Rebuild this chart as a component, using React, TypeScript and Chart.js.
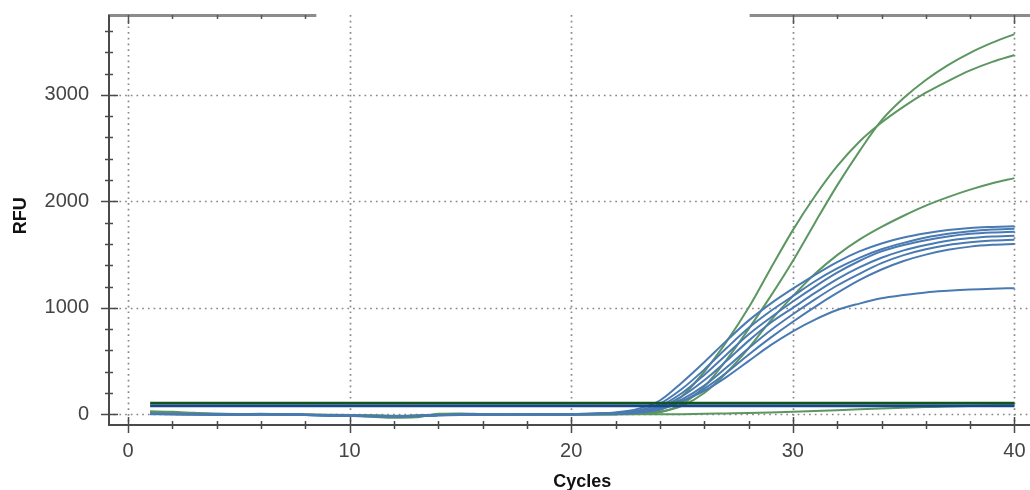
import React, { useEffect, useRef } from 'react';
import { Chart, registerables } from 'chart.js';

Chart.register(...registerables);

// ---------- data ----------
const cycles = [1, 2, 3, 4, 5, 6, 7, 8, 9, 10, 11, 12, 13, 14, 15, 16, 17, 18, 19, 20,
  21, 22, 23, 24, 25, 26, 27, 28, 29, 30, 31, 32, 33, 34, 35, 36, 37, 38, 39, 40];

const greenA = [12, 10, 6, 4, 3, 2, 0, -3, -6, -9, -12, -15, -12, -5, -2, -2, -3, -3, -2, -1,
  0, 3, 10, 40, 170, 400, 680, 1000, 1370, 1730, 2050, 2330, 2560, 2740, 2890, 3020, 3130, 3230, 3310, 3374];
const greenB = [20, 16, 10, 6, 4, 3, 1, -2, -5, -8, -12, -16, -14, -4, 0, -1, -2, -3, -2, -1,
  0, 2, 6, 20, 95, 260, 510, 800, 1110, 1440, 1800, 2150, 2470, 2760, 2970, 3140, 3280, 3395, 3490, 3571];
const greenC = [8, 6, 4, 2, 2, 1, 0, -2, -4, -6, -9, -12, -10, -3, -1, -1, -2, -2, -1, 0,
  0, 2, 8, 25, 80, 200, 390, 620, 880, 1110, 1320, 1495, 1640, 1760, 1865, 1960, 2040, 2110, 2170, 2218];
const greenLow = [28, 24, 14, 6, 3, 5, 1, -4, -9, -14, -22, -32, -28, 6, 9, 4, 1, -1, -3, -3,
  -2, -1, 0, 1, 2, 5, 9, 13, 18, 24, 31, 39, 47, 55, 62, 68, 74, 79, 83, 86];

const blue1 = [5, 4, 2, 0, -1, 2, 0, -4, -8, -12, -15, -16, -14, -6, -3, -2, -2, -1, 0, 2,
  8, 18, 50, 130, 300, 490, 690, 880, 1040, 1180, 1310, 1430, 1530, 1605, 1660, 1700, 1730, 1750, 1760, 1767];
const blue2 = [4, 3, 1, -1, -2, 1, -1, -5, -9, -13, -16, -17, -15, -7, -4, -3, -2, -1, 0, 1,
  6, 14, 35, 100, 240, 420, 620, 810, 970, 1110, 1250, 1370, 1470, 1550, 1610, 1660, 1695, 1720, 1735, 1742];
const blue3 = [3, 2, 0, -2, -3, 0, -2, -6, -10, -14, -17, -18, -16, -8, -4, -3, -3, -2, -1, 1,
  5, 12, 28, 80, 200, 370, 560, 750, 910, 1060, 1200, 1330, 1440, 1530, 1590, 1635, 1670, 1695, 1708, 1715];
const blue4 = [6, 5, 3, 1, 0, 3, 1, -3, -7, -11, -14, -15, -13, -5, -2, -1, -1, 0, 1, 2,
  4, 10, 24, 70, 170, 320, 500, 690, 860, 1000, 1140, 1270, 1380, 1470, 1540, 1590, 1630, 1655, 1670, 1678];
const blue5 = [2, 1, -1, -3, -4, -1, -3, -7, -11, -15, -18, -19, -17, -9, -5, -4, -3, -2, -1, 0,
  3, 8, 20, 55, 140, 270, 440, 620, 790, 940, 1080, 1210, 1320, 1420, 1495, 1550, 1590, 1615, 1632, 1640];
const blue6 = [4, 3, 1, -1, -2, 1, -1, -5, -9, -13, -16, -17, -15, -7, -3, -2, -2, -1, 0, 1,
  2, 6, 15, 45, 120, 240, 390, 560, 720, 870, 1010, 1140, 1260, 1360, 1440, 1500, 1545, 1575, 1592, 1600];
const blue7 = [3, 2, 0, -2, -3, 0, -2, -6, -10, -14, -17, -18, -16, -8, -4, -3, -2, -1, 0, 1,
  2, 5, 18, 55, 125, 220, 350, 500, 650, 780, 890, 980, 1040, 1090, 1120, 1145, 1160, 1172, 1180, 1185];

const greenThreshold = 106;
const blueThreshold = 80;

const xMajorTicks = [0, 10, 20, 30, 40];
const xMinorTicks = [0, 2, 4, 6, 8, 10, 12, 14, 16, 18, 20, 22, 24, 26, 28, 30, 32, 34, 36, 38, 40];
const yMajorTicks = [0, 1000, 2000, 3000];
const yMinorTicks = [0, 200, 400, 600, 800, 1000, 1200, 1400, 1600, 1800, 2000, 2200, 2400, 2600, 2800, 3000, 3200, 3400, 3600];

const xTitle = 'Cycles';
const yTitle = 'RFU';

// ---------- styling ----------
const FONT = "'Liberation Sans', Arial, Helvetica, sans-serif";
const GREEN = 'rgb(92,150,96)';
const BLUE = 'rgb(74,122,178)';
const GREEN_THR = 'rgb(20,84,30)';
const BLUE_THR = 'rgb(24,72,140)';
const topBorderSegments: [number, number][] = [[-0.9, 8.5], [28.05, 40.7]];

const toPoints = (vals: number[]) => cycles.map((c, i) => ({ x: c, y: vals[i] }));

const decorPlugin = {
  id: 'decor',
  beforeDatasetsDraw(chart: any) {
    const { ctx, chartArea: a, scales } = chart;
    const xs = scales.x, ys = scales.y;
    ctx.save();
    ctx.strokeStyle = '#888';
    ctx.lineWidth = 1.7;
    ctx.setLineDash([1.7, 4.0]);
    xMajorTicks.forEach((v) => {
      const px = Math.round(xs.getPixelForValue(v)) + 0.5;
      ctx.beginPath();
      ctx.moveTo(px, a.top);
      ctx.lineTo(px, a.bottom);
      ctx.stroke();
    });
    yMajorTicks.forEach((v) => {
      const py = Math.round(ys.getPixelForValue(v)) + 0.5;
      ctx.beginPath();
      ctx.moveTo(a.left, py);
      ctx.lineTo(a.right, py);
      ctx.stroke();
    });
    ctx.restore();
  },
  afterDatasetsDraw(chart: any) {
    const { ctx, chartArea: a, scales } = chart;
    const xs = scales.x, ys = scales.y;
    ctx.save();
    ctx.setLineDash([]);
    // top border (gray, with gap)
    ctx.strokeStyle = '#8c8c8c';
    ctx.lineWidth = 3;
    topBorderSegments.forEach(([s, e]) => {
      ctx.beginPath();
      ctx.moveTo(xs.getPixelForValue(s), a.top + 0.5);
      ctx.lineTo(xs.getPixelForValue(e), a.top + 0.5);
      ctx.stroke();
    });
    ctx.strokeStyle = '#555';
    ctx.lineWidth = 1.5;
    xMinorTicks.forEach((v) => {
      const inSeg = topBorderSegments.some(([s, e]) => v >= s && v <= e);
      if (!inSeg) return;
      const px = Math.round(xs.getPixelForValue(v)) + 0.5;
      const len = xMajorTicks.includes(v) ? 9 : 4;
      ctx.beginPath();
      ctx.moveTo(px, a.top);
      ctx.lineTo(px, a.top + len);
      ctx.stroke();
    });
    // axis lines
    ctx.strokeStyle = '#4a4a4a';
    ctx.lineWidth = 2;
    ctx.beginPath();
    ctx.moveTo(a.left + 1, a.top);
    ctx.lineTo(a.left + 1, a.bottom);
    ctx.lineTo(a.right, a.bottom);
    ctx.stroke();
    // y ticks (crossing)
    ctx.lineWidth = 1.5;
    yMinorTicks.forEach((v) => {
      const py = Math.round(ys.getPixelForValue(v)) + 0.5;
      const major = yMajorTicks.includes(v);
      ctx.beginPath();
      ctx.moveTo(a.left + 1 - (major ? 8 : 4), py);
      ctx.lineTo(a.left + 1 + (major ? 9 : 4), py);
      ctx.stroke();
    });
    // x ticks (crossing)
    xMinorTicks.forEach((v) => {
      const px = Math.round(xs.getPixelForValue(v)) + 0.5;
      const major = xMajorTicks.includes(v);
      ctx.beginPath();
      ctx.moveTo(px, a.bottom - (major ? 8 : 4));
      ctx.lineTo(px, a.bottom + (major ? 8 : 4));
      ctx.stroke();
    });
    // axis titles
    ctx.fillStyle = '#111';
    ctx.font = `bold 18px ${FONT}`;
    ctx.textAlign = 'center';
    ctx.textBaseline = 'alphabetic';
    ctx.fillText(xTitle, xs.getPixelForValue(20.5), a.bottom + 62);
    ctx.translate(21, ys.getPixelForValue(1865));
    ctx.rotate(-Math.PI / 2);
    ctx.textBaseline = 'middle';
    ctx.fillText(yTitle, 0, 0);
    ctx.restore();
  },
};

export default function App() {
  const ref = useRef<HTMLCanvasElement | null>(null);
  useEffect(() => {
    if (!ref.current) return;
    Chart.defaults.font.family = FONT;
    const curve = (label: string, vals: number[], color: string) => ({
      label,
      data: toPoints(vals),
      borderColor: color,
      borderWidth: 2,
      pointRadius: 0,
      fill: false,
      cubicInterpolationMode: 'monotone' as const,
    });
    const flat = (label: string, value: number, color: string) => ({
      label,
      data: [cycles[0], cycles[cycles.length - 1]].map((c) => ({ x: c, y: value })),
      borderColor: color,
      borderWidth: 2.8,
      pointRadius: 0,
      fill: false,
    });
    const chart = new Chart(ref.current, {
      type: 'line',
      data: {
        datasets: [
          flat('Blue threshold', blueThreshold, BLUE_THR),
          flat('Green threshold', greenThreshold, GREEN_THR),
          curve('B1', blue1, BLUE),
          curve('B2', blue2, BLUE),
          curve('B3', blue3, BLUE),
          curve('B4', blue4, BLUE),
          curve('B5', blue5, BLUE),
          curve('B6', blue6, BLUE),
          curve('B7', blue7, BLUE),
          curve('G1', greenA, GREEN),
          curve('G2', greenB, GREEN),
          curve('G3', greenC, GREEN),
          curve('G4', greenLow, GREEN),
        ] as any,
      },
      options: {
        animation: false,
        responsive: false,
        events: [],
        layout: { padding: { top: 15, left: 0, right: 0, bottom: 0 } },
        plugins: { legend: { display: false }, tooltip: { enabled: false }, title: { display: false } },
        scales: {
          x: {
            type: 'linear',
            min: -0.9,
            max: 40.7,
            grid: { display: false, drawTicks: false },
            border: { display: false },
            ticks: { padding: 14, color: '#444', font: { size: 20, family: FONT }, maxRotation: 0, callback: (v: any) => String(v) },
            afterBuildTicks: (s: any) => { s.ticks = xMajorTicks.map((v) => ({ value: v })); },
            afterFit: (s: any) => { s.height = 65; s.paddingLeft = 0; s.paddingRight = 0; },
          },
          y: {
            type: 'linear',
            min: -100,
            max: 3750,
            grid: { display: false, drawTicks: false },
            border: { display: false },
            ticks: { padding: 19, color: '#444', font: { size: 20, family: FONT }, callback: (v: any) => String(v) },
            afterBuildTicks: (s: any) => { s.ticks = yMajorTicks.map((v) => ({ value: v })); },
            afterFit: (s: any) => { s.width = 108; s.paddingTop = 0; s.paddingBottom = 0; },
          },
        },
      } as any,
      plugins: [decorPlugin],
    });
    return () => chart.destroy();
  }, []);
  return (
    <div style={{ position: 'absolute', left: 0, top: 0, width: 1030, height: 490, background: '#fff' }}>
      <canvas ref={ref} width={1030} height={490} style={{ display: 'block' }} />
    </div>
  );
}
